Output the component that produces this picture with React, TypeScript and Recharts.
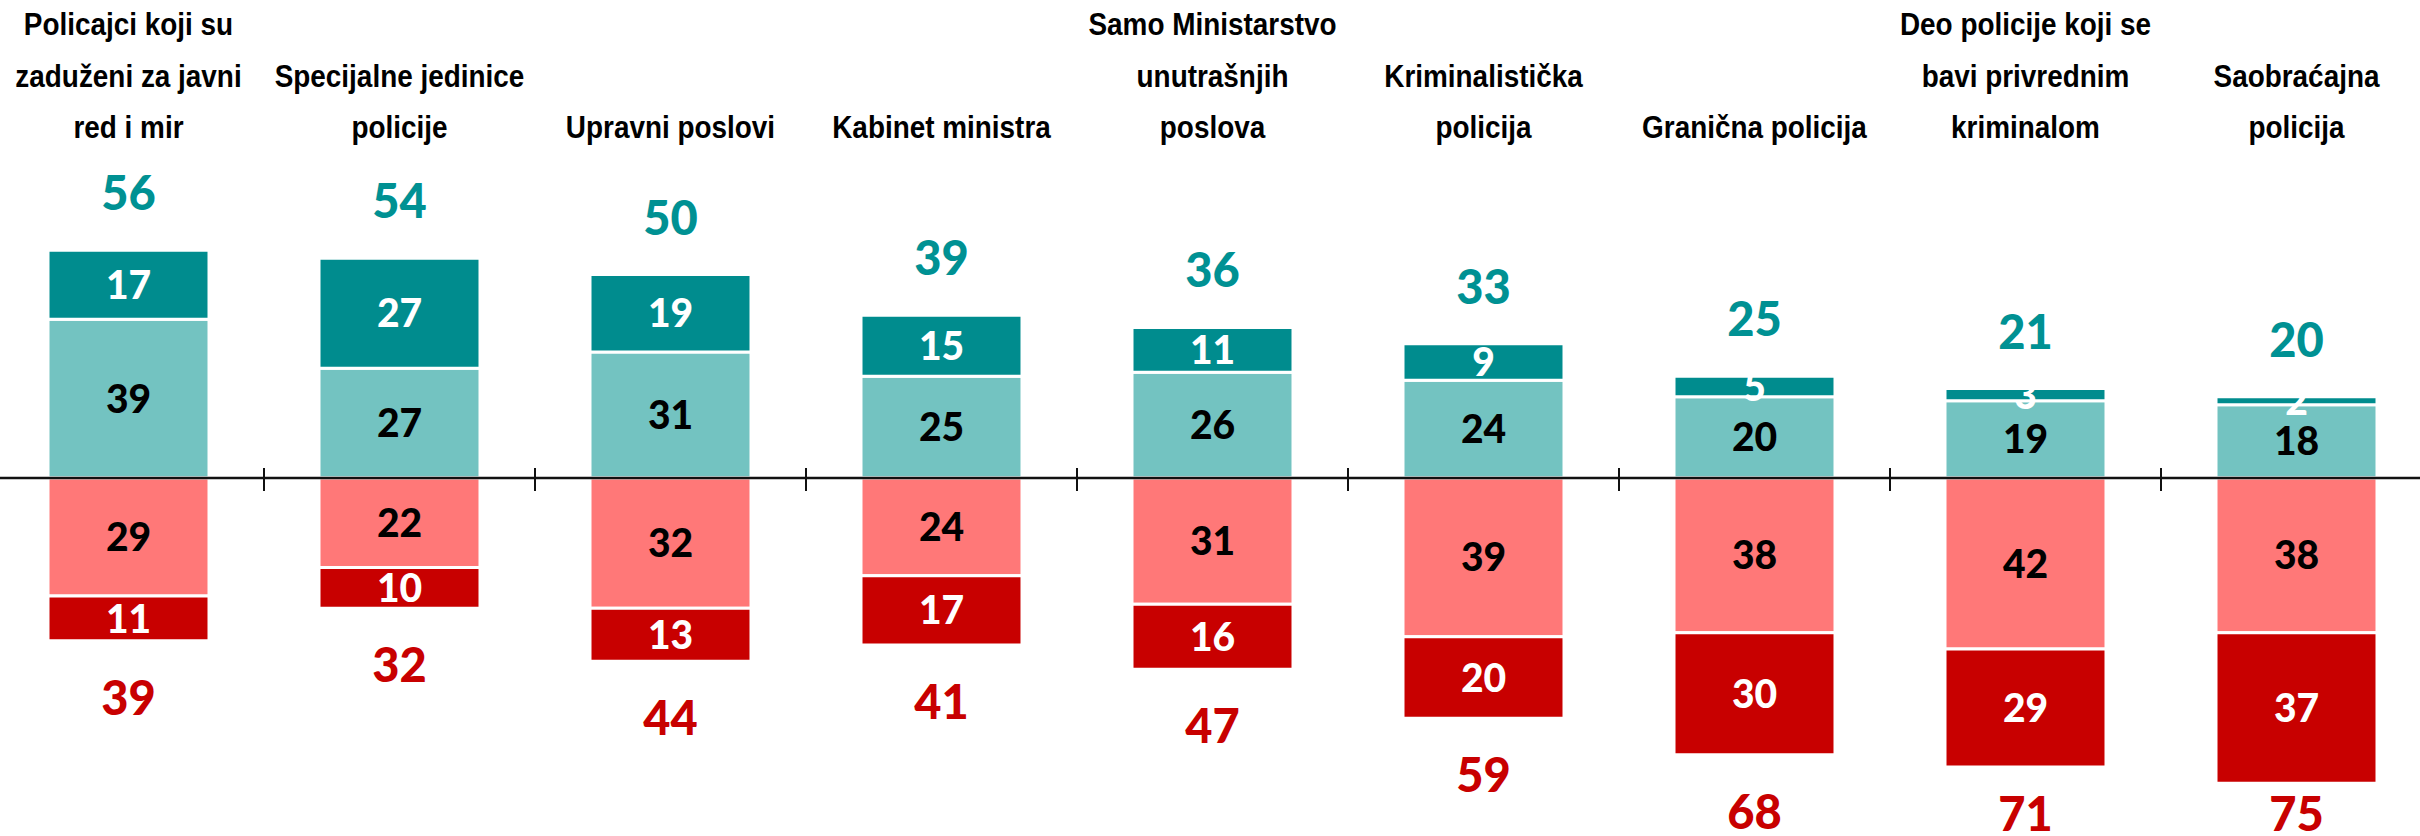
import React from "react";
import { Bar, BarChart, LabelList, ReferenceLine, XAxis, YAxis } from "recharts";

// category names, line breaks as in the original header
const categories = [
  "Policajci koji su\nzaduženi za javni\nred i mir",
  "Specijalne jedinice\npolicije",
  "Upravni poslovi",
  "Kabinet ministra",
  "Samo Ministarstvo\nunutrašnjih\nposlova",
  "Kriminalistička\npolicija",
  "Granična policija",
  "Deo policije koji se\nbavi privrednim\nkriminalom",
  "Saobraćajna\npolicija",
];

const strongPositive = [17, 27, 19, 15, 11, 9, 5, 3, 2];
const positive = [39, 27, 31, 25, 26, 24, 20, 19, 18];
const negative = [29, 22, 32, 24, 31, 39, 38, 42, 38];
const strongNegative = [11, 10, 13, 17, 16, 20, 30, 29, 37];
const positiveTotals = [56, 54, 50, 39, 36, 33, 25, 21, 20];
const negativeTotals = [39, 32, 44, 41, 47, 59, 68, 71, 75];

const DARK_TEAL = "#008C8E";
const LIGHT_TEAL = "#73C3C1";
const PINK = "#FF7878";
const RED = "#C80000";

const NUM_FONT = "Lato, 'Open Sans', sans-serif";
const HEAD_FONT = "'Liberation Sans', Arial, sans-serif";

const data = categories.map((name, i) => ({
  name,
  pos: positive[i],
  strongPos: strongPositive[i],
  neg: -negative[i],
  strongNeg: -strongNegative[i],
  posTotal: positiveTotals[i],
  negTotal: negativeTotals[i],
}));

function boxOf(props: any) {
  const vb = props.viewBox && props.viewBox.width != null ? props.viewBox : props;
  const x = Number(vb.x ?? 0);
  const y = Number(vb.y ?? 0);
  const w = Number(vb.width ?? 0);
  const h = Number(vb.height ?? 0);
  return { cx: x + w / 2, top: Math.min(y, y + h), bottom: Math.max(y, y + h) };
}

function segmentLabel(color: string) {
  return (props: any) => {
    const { cx, top, bottom } = boxOf(props);
    const size = 39;
    return (
      <text
        x={cx}
        y={(top + bottom) / 2 + size * 0.36}
        textAnchor="middle"
        fill={color}
        fontSize={size}
        fontWeight={900}
        fontFamily={NUM_FONT}
      >
        {Math.abs(Number(props.value))}
      </text>
    );
  };
}

function PositiveTotal(props: any) {
  const { cx, top } = boxOf(props);
  return (
    <text x={cx} y={top - 40} textAnchor="middle" fill="#009193" fontSize={47} fontWeight={900} fontFamily={NUM_FONT}>
      {props.value}
    </text>
  );
}

function NegativeTotal(props: any) {
  const { cx, bottom } = boxOf(props);
  return (
    <text
      x={cx}
      y={Math.min(bottom + 74, 831)}
      textAnchor="middle"
      fill="#C80000"
      fontSize={47}
      fontWeight={900}
      fontFamily={NUM_FONT}
    >
      {props.value}
    </text>
  );
}

function CategoryTick(props: any) {
  const x = props.x ?? 0;
  const lines = String(props.payload?.value ?? "").split("\n");
  const lastBaseline = 138;
  const step = 51.5;
  return (
    <g>
      {lines.map((line, i) => (
        <text
          key={`${line}-${i}`}
          transform={`translate(${x},${lastBaseline - (lines.length - 1 - i) * step}) scale(0.9,1)`}
          textAnchor="middle"
          fill="#000"
          fontSize={31}
          fontWeight={700}
          fontFamily={HEAD_FONT}
        >
          {line}
        </text>
      ))}
    </g>
  );
}

function ZeroAxis(props: any) {
  const x1 = Number(props.x1);
  const x2 = Number(props.x2);
  const y = Number(props.y1);
  const step = (x2 - x1) / categories.length;
  const ticks = categories.slice(1).map((_, i) => x1 + step * (i + 1));
  return (
    <g>
      <line x1={x1} y1={y} x2={x2} y2={y} stroke="#111" strokeWidth={2.6} />
      {ticks.map((tx) => (
        <line key={tx} x1={tx} y1={y - 10} x2={tx} y2={y + 13} stroke="#111" strokeWidth={2} />
      ))}
    </g>
  );
}

export default function App() {
  return (
    <div style={{ position: "absolute", left: 0, top: 0, width: 2420, height: 836, overflow: "hidden", background: "#fff" }}>
      <div style={{ marginLeft: -7 }}>
        <BarChart
          width={2439}
          height={836}
          data={data}
          stackOffset="sign"
          barSize={161}
          margin={{ top: 8, right: 0, bottom: 12, left: 0 }}
        >
          <XAxis
            dataKey="name"
            orientation="top"
            height={2}
            axisLine={false}
            tickLine={false}
            tick={CategoryTick}
            interval={0}
          />
          <YAxis hide type="number" domain={[-85, 115]} allowDataOverflow />
          <Bar dataKey="pos" stackId="s" fill={LIGHT_TEAL} stroke="#fff" strokeWidth={3} isAnimationActive={false}>
            <LabelList dataKey="pos" content={segmentLabel("#000")} />
          </Bar>
          <Bar dataKey="strongPos" stackId="s" fill={DARK_TEAL} stroke="#fff" strokeWidth={3} isAnimationActive={false}>
            <LabelList dataKey="strongPos" content={segmentLabel("#fff")} />
            <LabelList dataKey="posTotal" content={<PositiveTotal />} />
          </Bar>
          <Bar dataKey="neg" stackId="s" fill={PINK} stroke="#fff" strokeWidth={3} isAnimationActive={false}>
            <LabelList dataKey="neg" content={segmentLabel("#000")} />
          </Bar>
          <Bar dataKey="strongNeg" stackId="s" fill={RED} stroke="#fff" strokeWidth={3} isAnimationActive={false}>
            <LabelList dataKey="strongNeg" content={segmentLabel("#fff")} />
            <LabelList dataKey="negTotal" content={<NegativeTotal />} />
          </Bar>
          <ReferenceLine y={0} shape={<ZeroAxis />} />
        </BarChart>
      </div>
    </div>
  );
}
